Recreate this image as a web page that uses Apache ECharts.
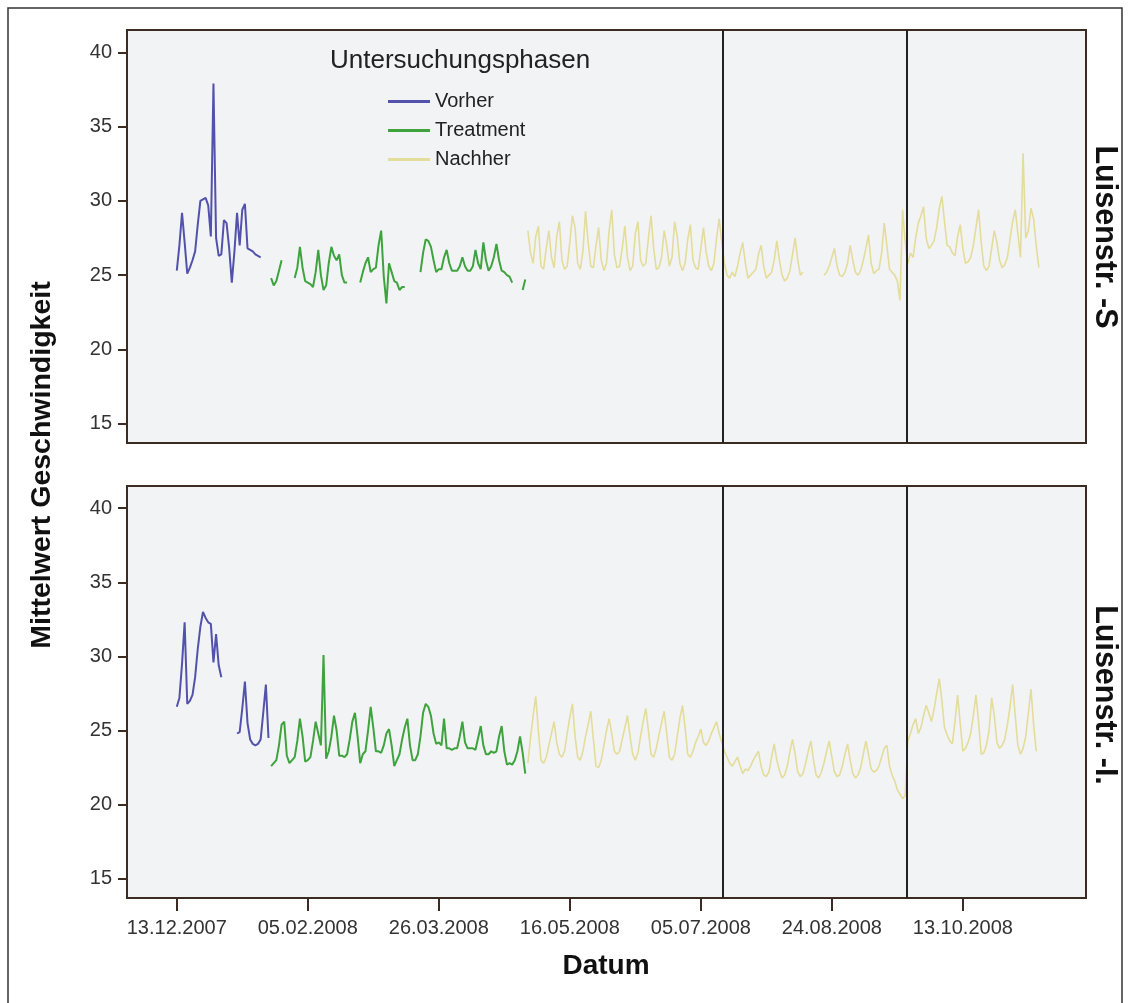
<!DOCTYPE html>
<html>
<head>
<meta charset="utf-8">
<script src="https://cdn.jsdelivr.net/npm/echarts@6/dist/echarts.min.js"></script>
<style>
html,body{margin:0;padding:0;background:#fff;}
#chart{width:1131px;height:1003px;}
</style>
</head>
<body>
<div id="chart"></div>
<script>
// x = day index (0 = 13.12.2007), labels every 50 steps
const tickIndex = [0, 50, 100, 150, 200, 250, 300];
const tickLabels = ['13.12.2007', '05.02.2008', '26.03.2008', '16.05.2008', '05.07.2008', '24.08.2008', '13.10.2008'];
const yTicks = [15, 20, 25, 30, 35, 40];
const vLines = [208.4, 278.6];
const phases = ['Vorher', 'Treatment', 'Nachher'];
const panels = ['Luisenstr. -S', 'Luisenstr. -I.'];

// ---- Luisenstr. -S ----
const vorherTopStart = 0;
const vorherTop = [25.3, 27.0, 29.2, 27.2, 25.1, 25.5, 26.0, 26.6, 28.4, 30.0, 30.1, 30.2, 29.7, 27.6, 37.9, 27.5,
  26.3, 26.4, 28.7, 28.5, 26.8, 24.5, 26.6, 29.2, 27.0, 29.4, 29.8, 26.8, 26.7, 26.6, 26.4, 26.3, 26.2];

const treatTopStart = 36;
const treatTop = [24.8, 24.3, 24.6, 25.3, 26.0, null, null, null, null,
  24.8, 25.5, 26.9, 25.5, 24.6, 24.5, 24.4, 24.2, 25.2, 26.7, 25.0, 24.0, 24.3, 25.8, 26.9, 26.3, 26.0, 26.4, 25.0, 24.5, 24.5,
  null, null, null, null,
  24.5, 25.2, 25.8, 26.2, 25.2, 25.4, 25.5, 27.0, 28.0, 24.9, 23.1, 25.8, 25.2, 24.6, 24.5, 24.0, 24.2, 24.2,
  null, null, null, null, null,
  25.2, 26.5, 27.4, 27.3, 26.9, 26.0, 25.2, 25.4, 25.4, 26.2, 26.7, 25.8, 25.3, 25.3, 25.3, 25.6, 26.2, 25.6, 25.3, 25.3,
  25.6, 26.7, 25.8, 25.4, 27.2, 26.0, 25.3, 25.6, 26.2, 27.1, 26.0, 25.3, 25.2, 25.0, 24.9, 24.5,
  null, null, null,
  24.0, 24.7];

const nachTopStart = 134;
const nachTop = [28.0, 26.5, 25.8, 27.6, 28.3, 25.6, 25.4, 26.8, 28.0, 26.2, 25.5, 27.6, 28.6, 26.0, 25.4, 25.6, 27.2, 29.0,
  28.2, 25.8, 25.4, 26.6, 29.3, 27.2, 25.6, 25.5, 27.0, 28.2, 26.0, 25.3, 25.8, 28.0, 29.4, 26.4, 25.5, 25.6, 26.8, 28.3,
  26.2, 25.3, 25.6, 27.8, 28.6, 26.0, 25.6, 25.8, 27.5, 29.0, 26.8, 25.4, 25.5, 26.2, 28.0, 27.0, 25.6, 26.2, 28.6, 27.6,
  25.8, 25.3, 25.8, 27.4, 28.4, 26.0, 25.5, 25.4, 26.8, 28.2, 26.6, 25.6, 25.3, 25.8, 27.5, 28.8, 27.2,
  25.8, 25.0, 24.8, 25.2, 24.9, 25.6, 26.5, 27.2, 25.8, 24.8, 25.0, 25.2, 25.4, 26.4, 27.0, 25.6, 24.8, 25.0, 25.2, 26.0,
  27.3, 26.0, 25.0, 24.6, 24.8, 25.3, 26.4, 27.5, 26.0, 25.0, 25.2,
  null, null, null, null, null, null, null,
  25.0, 25.2, 25.6, 26.2, 26.8, 25.6, 25.0, 24.9, 25.2, 25.8, 27.0, 26.0, 25.2, 25.0, 25.3, 26.0, 26.8, 27.7, 25.8, 25.1,
  25.3, 25.4, 26.5, 28.5, 27.0, 25.4, 25.2, 25.0, 24.6, 23.3, 29.4, 27.2, 25.8,
  26.5, 26.2, 27.5, 28.5, 29.0, 29.6, 27.5, 26.8, 27.0, 27.3, 28.2, 29.5, 30.3, 28.6, 27.0, 26.9, 26.5, 26.3, 27.6, 28.4,
  26.8, 25.8, 25.9, 26.2, 27.0, 28.2, 29.4, 27.2, 25.6, 25.3, 25.6, 26.8, 28.0, 27.2, 26.0, 25.5, 25.7, 26.2, 27.4, 28.6,
  29.4, 27.8, 26.2, 33.2, 27.5, 28.0, 29.5, 28.8, 27.0, 25.5];

// ---- Luisenstr. -I. ----
const vorherBotStart = 0;
const vorherBot = [26.6, 27.2, 29.5, 32.3, 26.8, 27.0, 27.4, 28.6, 30.5, 32.0, 33.0, 32.6, 32.3, 32.2, 29.6, 31.5, 29.4, 28.6,
  null, null, null, null, null,
  24.8, 24.9, 26.5, 28.3, 25.5, 24.4, 24.1, 24.0, 24.1, 24.4, 26.2, 28.1, 24.5];

const treatBotStart = 36;
const treatBot = [22.6, 22.8, 23.0, 24.0, 25.4, 25.6, 23.3, 22.8, 23.0, 23.2, 24.3, 25.8, 24.6, 22.9, 23.0, 23.2, 24.3, 25.6,
  24.8, 24.0, 30.1, 23.1, 23.6, 24.6, 26.0, 25.0, 23.3, 23.3, 23.2, 23.4, 24.4, 25.6, 26.2, 24.6, 22.8, 23.4, 23.6, 25.0,
  26.6, 25.2, 23.6, 23.6, 23.5, 24.0, 24.8, 25.1, 24.0, 22.6, 23.0, 23.4, 24.4, 25.2, 25.8, 24.0, 23.0, 23.0, 23.4, 24.6,
  26.2, 26.8, 26.6, 26.0, 24.8, 24.1, 24.2, 24.0, 25.8, 23.8, 23.8, 23.7, 23.8, 23.8, 24.6, 25.6, 24.2, 23.8, 23.8, 23.8,
  23.7, 24.5, 25.3, 24.0, 23.4, 23.4, 23.6, 23.5, 23.6, 24.6, 25.3, 23.6, 22.7, 22.8, 22.7, 23.0, 23.6, 24.6, 23.5, 22.1];

const nachBotStart = 134;
const nachBot = [22.8, 24.5, 26.0, 27.3, 25.0, 23.0, 22.8, 23.2, 24.0, 24.8, 25.6, 24.2, 23.4, 23.2, 23.6, 24.8, 25.9, 26.8,
  24.6, 23.2, 23.0, 23.6, 24.6, 25.4, 26.3, 24.4, 22.6, 22.5, 23.0, 24.0, 25.0, 25.8, 24.8, 23.6, 23.4, 23.6, 24.4, 25.2,
  26.0, 24.6, 23.4, 23.0, 23.5, 24.6, 25.6, 26.5, 25.0, 23.4, 23.2, 23.8, 24.7, 25.5, 26.3, 24.8, 23.2, 23.0, 23.4, 24.6,
  25.8, 26.7, 25.2, 23.4, 23.2, 23.6, 24.2, 24.6, 25.1, 24.2, 24.0, 24.3, 24.8, 25.2, 25.6, 24.8, 24.2,
  23.6, 23.2, 22.8, 22.6, 22.9, 23.2, 22.6, 22.1, 22.4, 22.3, 22.6, 23.0, 23.3, 23.6, 22.6, 22.0, 21.9, 22.2, 23.2, 24.1,
  23.0, 22.3, 21.8, 22.0, 22.6, 23.6, 24.4, 23.4, 22.2, 21.9, 22.1, 22.8, 23.6, 24.3, 23.0, 22.0, 21.8, 22.2, 22.8, 23.6,
  24.3, 23.2, 22.2, 21.9, 22.0, 22.6, 23.4, 24.1, 23.0, 22.1, 21.8, 22.0, 22.5, 23.4, 24.3, 23.4, 22.4, 22.2, 22.3, 22.6,
  23.2, 23.8, 24.0, 22.6, 22.0, 21.6, 21.0, 20.7, 20.4, 20.6,
  24.3, 24.8, 25.4, 25.8, 24.8, 25.2, 26.0, 26.7, 26.2, 25.6, 26.4, 27.5, 28.5, 27.0, 25.2, 24.7, 24.3, 24.1, 25.6, 27.4,
  25.5, 23.6, 23.8, 24.2, 24.8, 26.0, 27.4, 25.6, 23.4, 23.5, 24.0, 25.0, 27.2, 26.0, 24.2, 23.8, 24.0, 24.4, 25.4, 26.6,
  28.1, 26.0, 24.0, 23.4, 23.8, 24.6, 26.2, 27.8, 25.4, 23.6];

const colors = { Vorher: '#5252ac', Treatment: '#3ea33e', Nachher: '#e4dc9a' };

function pairs(start, arr) { return arr.map((v, i) => [start + i, v]); }

const FONT = '"Liberation Sans", Arial, sans-serif';
const frameColor = '#3b2b22';
const xMin = -19, xMax = 347;
const yMin = 13.7, yMax = 41.5;

function mkSeries(name, data, axis, width, withLines) {
  const s = {
    name: name, type: 'line', xAxisIndex: axis, yAxisIndex: axis,
    data: data, symbol: 'none', showSymbol: false, connectNulls: false,
    lineStyle: { color: colors[name], width: width },
    itemStyle: { color: colors[name] },
    animation: false, z: 3
  };
  if (withLines) {
    s.markLine = {
      silent: true, symbol: 'none', label: { show: false },
      lineStyle: { color: '#222', width: 2, type: 'solid' },
      data: vLines.map(v => ({ xAxis: v }))
    };
  }
  return s;
}

const series = [
  mkSeries('Vorher', pairs(vorherTopStart, vorherTop), 0, 2, false),
  mkSeries('Treatment', pairs(treatTopStart, treatTop), 0, 2, false),
  mkSeries('Nachher', pairs(nachTopStart, nachTop), 0, 1.6, true),
  mkSeries('Vorher', pairs(vorherBotStart, vorherBot), 1, 2, false),
  mkSeries('Treatment', pairs(treatBotStart, treatBot), 1, 2, false),
  mkSeries('Nachher', pairs(nachBotStart, nachBot), 1, 1.6, true)
];

function yAxis(idx) {
  return {
    type: 'value', gridIndex: idx, min: yMin, max: yMax, position: 'left',
    axisLine: { show: false, onZero: false },
    axisTick: { show: true, inside: false, length: 9, customValues: yTicks, lineStyle: { color: frameColor, width: 2 } },
    axisLabel: { show: true, customValues: yTicks, margin: 15, fontSize: 20, color: '#333', fontFamily: FONT },
    splitLine: { show: false }
  };
}

const option = {
  backgroundColor: '#ffffff',
  animation: false,
  grid: [
    { left: 127, top: 30, width: 959, height: 413, show: true, backgroundColor: '#f2f3f4', borderColor: frameColor, borderWidth: 2 },
    { left: 127, top: 486, width: 959, height: 412, show: true, backgroundColor: '#f2f3f4', borderColor: frameColor, borderWidth: 2 }
  ],
  xAxis: [
    { type: 'value', gridIndex: 0, min: xMin, max: xMax, axisLine: { show: false, onZero: false }, axisTick: { show: false }, axisLabel: { show: false }, splitLine: { show: false } },
    { type: 'value', gridIndex: 1, min: xMin, max: xMax, position: 'bottom', axisLine: { show: false, onZero: false },
      axisTick: { show: true, length: 13, customValues: tickIndex, lineStyle: { color: frameColor, width: 2 } },
      axisLabel: { show: true, customValues: tickIndex, margin: 20, fontSize: 20, color: '#333', fontFamily: FONT,
        formatter: function (v) { const k = tickIndex.indexOf(Math.round(v)); return k >= 0 ? tickLabels[k] : ''; } },
      splitLine: { show: false } }
  ],
  yAxis: [yAxis(0), yAxis(1)],
  legend: {
    data: phases, orient: 'vertical', left: 383, top: 86,
    icon: 'rect', itemWidth: 42, itemHeight: 3, itemGap: 8,
    textStyle: { fontSize: 20, color: '#222', fontFamily: FONT, lineHeight: 21 },
    selectedMode: false
  },
  graphic: [
    { type: 'rect', shape: { x: 8, y: 8, width: 1114, height: 1010 }, style: { fill: 'none', stroke: '#333', lineWidth: 1.5 }, silent: true, z: 0 },
    { type: 'text', left: 330, top: 48, style: { text: 'Untersuchungsphasen', fontSize: 26, fill: '#222', fontFamily: FONT } },
    { type: 'text', x: 42, y: 465, rotation: Math.PI / 2, style: { text: 'Mittelwert Geschwindigkeit', fontSize: 28.5, fontWeight: 'bold', fill: '#111', fontFamily: FONT, textAlign: 'center', textVerticalAlign: 'middle' } },
    { type: 'text', x: 606, y: 966, style: { text: 'Datum', fontSize: 28, fontWeight: 'bold', fill: '#111', fontFamily: FONT, textAlign: 'center', textVerticalAlign: 'middle' } },
    { type: 'text', x: 1104, y: 237, rotation: -Math.PI / 2, style: { text: panels[0], fontSize: 30.5, fontWeight: 'bold', fill: '#111', fontFamily: FONT, textAlign: 'center', textVerticalAlign: 'middle' } },
    { type: 'text', x: 1104, y: 695, rotation: -Math.PI / 2, style: { text: panels[1], fontSize: 30.5, fontWeight: 'bold', fill: '#111', fontFamily: FONT, textAlign: 'center', textVerticalAlign: 'middle' } }
  ],
  series: series
};

const chart = echarts.init(document.getElementById('chart'), null, { renderer: 'canvas' });
chart.setOption(option);
</script>
</body>
</html>
